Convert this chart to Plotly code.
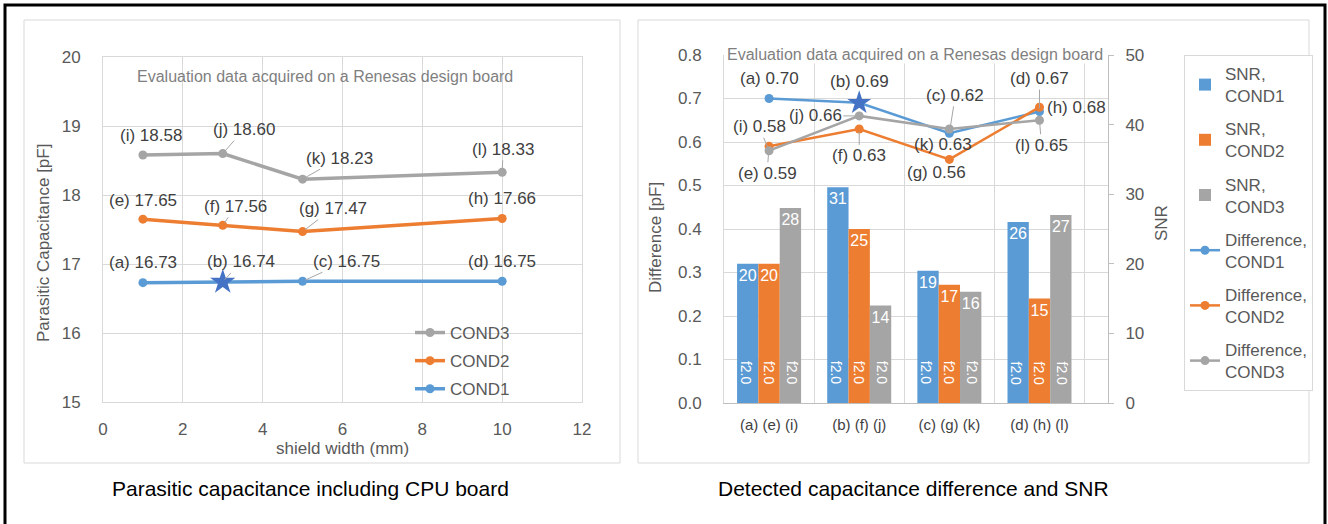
import plotly.graph_objects as go

W, H = 1328, 524

# ---- left chart: parasitic capacitance vs shield width ----
shield_mm = [1, 3, 5, 10]
cap_cond1 = [16.73, 16.74, 16.75, 16.75]
cap_cond2 = [17.65, 17.56, 17.47, 17.66]
cap_cond3 = [18.58, 18.60, 18.23, 18.33]
tags_cond1 = ["a", "b", "c", "d"]
tags_cond2 = ["e", "f", "g", "h"]
tags_cond3 = ["i", "j", "k", "l"]

# ---- right chart: difference and SNR ----
groups = ["(a) (e) (i)", "(b) (f) (j)", "(c) (g) (k)", "(d) (h) (l)"]
snr_cond1 = [20, 31, 19, 26]
snr_cond2 = [20, 25, 17, 15]
snr_cond3 = [28, 14, 16, 27]
diff_cond1 = [0.70, 0.69, 0.62, 0.67]
diff_cond2 = [0.59, 0.63, 0.56, 0.68]
diff_cond3 = [0.58, 0.66, 0.63, 0.65]
bar_note = "f2.0"
star_idx = 1  # the starred measurement (b)

BLUE, ORANGE, GRAY, STAR = "#5B9BD5", "#ED7D31", "#A5A5A5", "#4472C4"
GRID, TICK, LABEL = "#D9D9D9", "#595959", "#404040"
FONT = "Liberation Sans, Arial, sans-serif"


def px(x):
    return x / W


def py(y):
    return 1 - y / H


fig = go.Figure()

# left chart lines (legend lists COND3 first)
for rank, (name, vals, col) in zip([3, 2, 1], [("COND1", cap_cond1, BLUE),
                                               ("COND2", cap_cond2, ORANGE),
                                               ("COND3", cap_cond3, GRAY)]):
    fig.add_trace(go.Scatter(x=shield_mm, y=vals, name=name, mode="lines+markers",
                             line=dict(color=col, width=3.5),
                             marker=dict(size=9, color=col),
                             xaxis="x", yaxis="y", legend="legend2", legendgroup="L" + name,
                             legendrank=rank))
fig.add_trace(go.Scatter(x=[shield_mm[star_idx]], y=[cap_cond1[star_idx]], mode="markers",
                         marker=dict(symbol="star", size=19, color=STAR),
                         xaxis="x", yaxis="y", showlegend=False))

# right chart bars (SNR, right axis)
for name, vals, col in [("SNR,<br>COND1", snr_cond1, BLUE), ("SNR,<br>COND2", snr_cond2, ORANGE),
                        ("SNR,<br>COND3", snr_cond3, GRAY)]:
    fig.add_trace(go.Bar(x=groups, y=vals, name=name, marker=dict(color=col, line=dict(width=0)),
                         text=vals, textposition="inside", insidetextanchor="end", textangle=0,
                         textfont=dict(color="white", size=16, family=FONT),
                         xaxis="x2", yaxis="y3", legendgroup=name))

# right chart lines (difference, left axis)
for name, vals, col in [("Difference,<br>COND1", diff_cond1, BLUE),
                        ("Difference,<br>COND2", diff_cond2, ORANGE),
                        ("Difference,<br>COND3", diff_cond3, GRAY)]:
    fig.add_trace(go.Scatter(x=groups, y=vals, name=name, mode="lines+markers",
                             line=dict(color=col, width=2.5), marker=dict(size=9, color=col),
                             xaxis="x2", yaxis="y2", legendgroup=name))
fig.add_trace(go.Scatter(x=[groups[star_idx]], y=[diff_cond1[star_idx]], mode="markers",
                         marker=dict(symbol="star", size=18, color=STAR),
                         xaxis="x2", yaxis="y2", showlegend=False))

ann = []


def point_labels(xref, yref, xs, ys, tags, offsets):
    for x, y, t, (ax, ay, line) in zip(xs, ys, tags, offsets):
        ann.append(dict(xref=xref, yref=yref, x=x, y=y, text=f"({t}) {y:.2f}",
                        showarrow=True, ax=ax, ay=ay, arrowhead=0, arrowwidth=1, standoff=3,
                        arrowcolor="#A6A6A6" if line else "rgba(0,0,0,0)",
                        font=dict(size=17, color=LABEL)))


point_labels("x", "y", shield_mm, cap_cond1, tags_cond1,
             [(0, -20, 0), (18, -20, 1), (44, -20, 1), (0, -20, 0)])
point_labels("x", "y", shield_mm, cap_cond2, tags_cond2,
             [(0, -19, 0), (13, -19, 1), (30, -23, 1), (0, -20, 0)])
point_labels("x", "y", shield_mm, cap_cond3, tags_cond3,
             [(8, -19, 0), (21, -24, 1), (37, -21, 1), (1, -23, 1)])

point_labels("x2", "y2", groups, diff_cond1, tags_cond1,
             [(0, -20, 0), (0, -21, 0), (6, -38, 1), (0, -33, 1)])
point_labels("x2", "y2", groups, diff_cond2, tags_cond2,
             [(-2, 27, 1), (0, 27, 1), (-13, 13, 0), (37, 0, 0)])
point_labels("x2", "y2", groups, diff_cond3, tags_cond3,
             [(-10, -24, 1), (-44, 0, 1), (-6, 16, 0), (2, 25, 1)])

# rotated note at the foot of every bar
for g in groups:
    for shift in (-23, 0, 23):
        ann.append(dict(xref="x2", yref="y2", x=g, y=0.069, xshift=shift, text=bar_note,
                        showarrow=False, textangle=90,
                        font=dict(size=14, color="white")))


def paper_text(x, y, text, size=17, color=TICK, angle=0, **kw):
    ann.append(dict(xref="paper", yref="paper", x=px(x), y=py(y), xanchor="center",
                    yanchor="middle", text=text, textangle=angle, showarrow=False,
                    font=dict(size=size, color=color), **kw))


note = "Evaluation data acquired on a Renesas design board"
paper_text(325, 76, note, size=16, color="#7F7F7F")
paper_text(915, 55, note, size=16, color="#7F7F7F", bgcolor="white", borderpad=0)
paper_text(43, 243, "Parasitic Capacitance [pF]", angle=-90)
paper_text(342, 448, "shield width (mm)")
paper_text(656, 238, "Difference [pF]", angle=-90)
paper_text(1162, 223, "SNR", angle=-90)
paper_text(310, 488, "Parasitic capacitance including CPU board", size=21, color="black")
paper_text(913, 488, "Detected capacitance difference and SNR", size=21, color="black")

shapes = [
    dict(type="rect", xref="paper", yref="paper", x0=px(5), x1=px(1325), y0=py(540), y1=py(5),
         line=dict(color="black", width=3)),
    dict(type="rect", xref="paper", yref="paper", x0=px(24), x1=px(620), y0=py(463), y1=py(20),
         line=dict(color=GRID, width=1)),
    dict(type="rect", xref="paper", yref="paper", x0=px(638), x1=px(1309), y0=py(463), y1=py(20),
         line=dict(color=GRID, width=1)),
]

tick_font = dict(size=17, color=TICK)
fig.update_layout(
    width=W, height=H, margin=dict(l=0, r=0, t=0, b=0, autoexpand=False),
    paper_bgcolor="white", plot_bgcolor="white",
    font=dict(family=FONT, color=TICK),
    barmode="group", bargap=0.29, bargroupgap=0,
    uniformtext=dict(minsize=16, mode="show"),
    xaxis=dict(domain=[px(103), px(582)], range=[0, 12], dtick=2, anchor="y",
               showgrid=True, gridcolor=GRID, showline=True, mirror=True, linecolor=GRID,
               zeroline=False, tickfont=tick_font, ticks="", ticklabelstandoff=12,
               automargin=False),
    yaxis=dict(domain=[py(402), py(57)], range=[15, 20], dtick=1, anchor="x",
               showgrid=True, gridcolor=GRID, showline=True, mirror=True, linecolor=GRID,
               zeroline=False, tickfont=tick_font, ticks="", ticklabelstandoff=18,
               automargin=False),
    xaxis2=dict(domain=[px(724), px(1108)], anchor="y2", type="category", tickson="boundaries",
                showgrid=True, gridcolor=GRID, showline=True, linecolor="#BFBFBF",
                tickfont=dict(size=15, color=LABEL), ticks="", ticklabelstandoff=8,
                automargin=False),
    yaxis2=dict(domain=[py(403), py(55)], range=[0, 0.8], dtick=0.1, tickformat=".1f",
                anchor="x2", showgrid=True, gridcolor=GRID, showline=True, linecolor=GRID,
                zeroline=False, tickfont=tick_font, ticks="", ticklabelstandoff=18,
                automargin=False),
    yaxis3=dict(overlaying="y2", side="right", anchor="x2", range=[0, 50], dtick=10,
                showgrid=False, showline=True, linecolor="#BFBFBF", zeroline=False,
                ticks="outside", ticklen=5, tickcolor="#BFBFBF", tickfont=tick_font,
                ticklabelstandoff=8, automargin=False),
    legend=dict(x=px(1184), y=py(55), xanchor="left", yanchor="top",
                bgcolor="white", bordercolor=GRID, borderwidth=1,
                font=dict(size=17, color=TICK), tracegroupgap=8, itemwidth=30),
    legend2=dict(x=px(410), y=py(315), xanchor="left", yanchor="top",
                 bgcolor="rgba(0,0,0,0)", traceorder="grouped",
                 font=dict(size=17, color=TICK), tracegroupgap=3, itemwidth=30),
    annotations=ann, shapes=shapes,
)

# the page's default body margin would push the figure 8px off the window
fig.write_html("out.html", config={"displayModeBar": False},
               post_script="document.body.style.margin='0px';")
